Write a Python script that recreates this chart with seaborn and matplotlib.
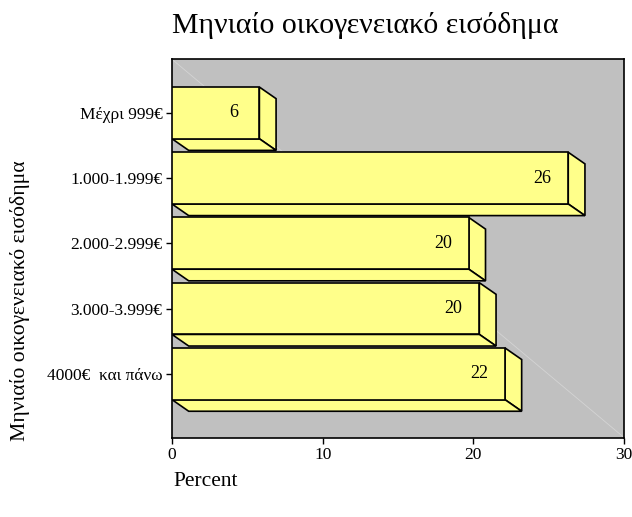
import matplotlib
matplotlib.use("Agg")
import matplotlib.pyplot as plt
from matplotlib.patches import Polygon
import seaborn as sns
import pandas as pd

categories = ["Μέχρι 999€", "1.000-1.999€", "2.000-2.999€", "3.000-3.999€", "4000€  και πάνω"]
percent = [5.8, 26.3, 19.7, 20.4, 22.1]
x_ticks = [0, 10, 20, 30]
title = "Μηνιαίο οικογενειακό εισόδημα"
y_label = "Μηνιαίο οικογενειακό εισόδημα"
x_label = "Percent"

sns.set_theme(style="white")
plt.rcParams["font.family"] = ["Liberation Serif", "DejaVu Serif"]

YELLOW = "#FFFF8A"
GRAY = "#C0C0C0"

df = pd.DataFrame({"cat": categories, "pct": percent})

fig = plt.figure(figsize=(6.32, 5.17), dpi=100)
ax = fig.add_axes([172 / 632, 1 - 437.5 / 517, (624 - 172) / 632, (437.5 - 59.3) / 517])
ax.set_facecolor(GRAY)

sns.barplot(data=df, y="cat", x="pct", orient="h", color=YELLOW, saturation=1,
            edgecolor="black", linewidth=1.2, width=0.793, ax=ax, zorder=3)

ax.set_xlim(0, 30)
ax.set_ylim(4.977, -0.822)

# faint background diagonal
ax.plot([0, 1], [1, 0], transform=ax.transAxes, color="#d4d4d4", lw=0.6, zorder=1)

dx = 1.108
dy = 0.178
for p in ax.patches:
    x0 = p.get_x()
    w = p.get_width()
    yt = p.get_y()
    h = p.get_height()
    yb = yt + h
    xe = x0 + w
    side = Polygon([[xe, yt], [xe + dx, yt + dy], [xe + dx, yb + dy], [xe, yb]],
                   closed=True, facecolor=YELLOW, edgecolor="black", lw=1.2, zorder=2.9)
    bottom = Polygon([[x0, yb], [xe, yb], [xe + dx, yb + dy], [x0 + dx, yb + dy]],
                     closed=True, facecolor=YELLOW, edgecolor="black", lw=1.2, zorder=2.9)
    ax.add_patch(side)
    ax.add_patch(bottom)

for i, v in enumerate(percent):
    ax.annotate(f"{v:.0f}", xy=(v, i), xytext=(-26, 0), textcoords="offset pixels",
                ha="center", va="center", fontsize=13, color="black", zorder=5)

ax.set_xticks(x_ticks)
ax.set_xticklabels([str(t) for t in x_ticks])
ax.tick_params(axis="both", which="both", direction="out", length=4, width=1,
               color="black", labelsize=12.5, labelcolor="black", bottom=True, left=True, pad=3)
for s in ax.spines.values():
    s.set_visible(True)
    s.set_color("black")
    s.set_linewidth(1.2)
ax.set_xlabel("")
ax.set_ylabel("")
ax.grid(False)

fig.text(365 / 632, 1 - 33 / 517, title, ha="center", va="baseline", fontsize=21.5, color="black")
fig.text(20 / 632, 1 - 301 / 517, y_label, ha="center", va="center", rotation=90,
         fontsize=15.6, color="black")
fig.text(173 / 632, 1 - 481 / 517, x_label, ha="left", va="center", fontsize=15.5, color="black")

fig.savefig("out.png", dpi=100)
